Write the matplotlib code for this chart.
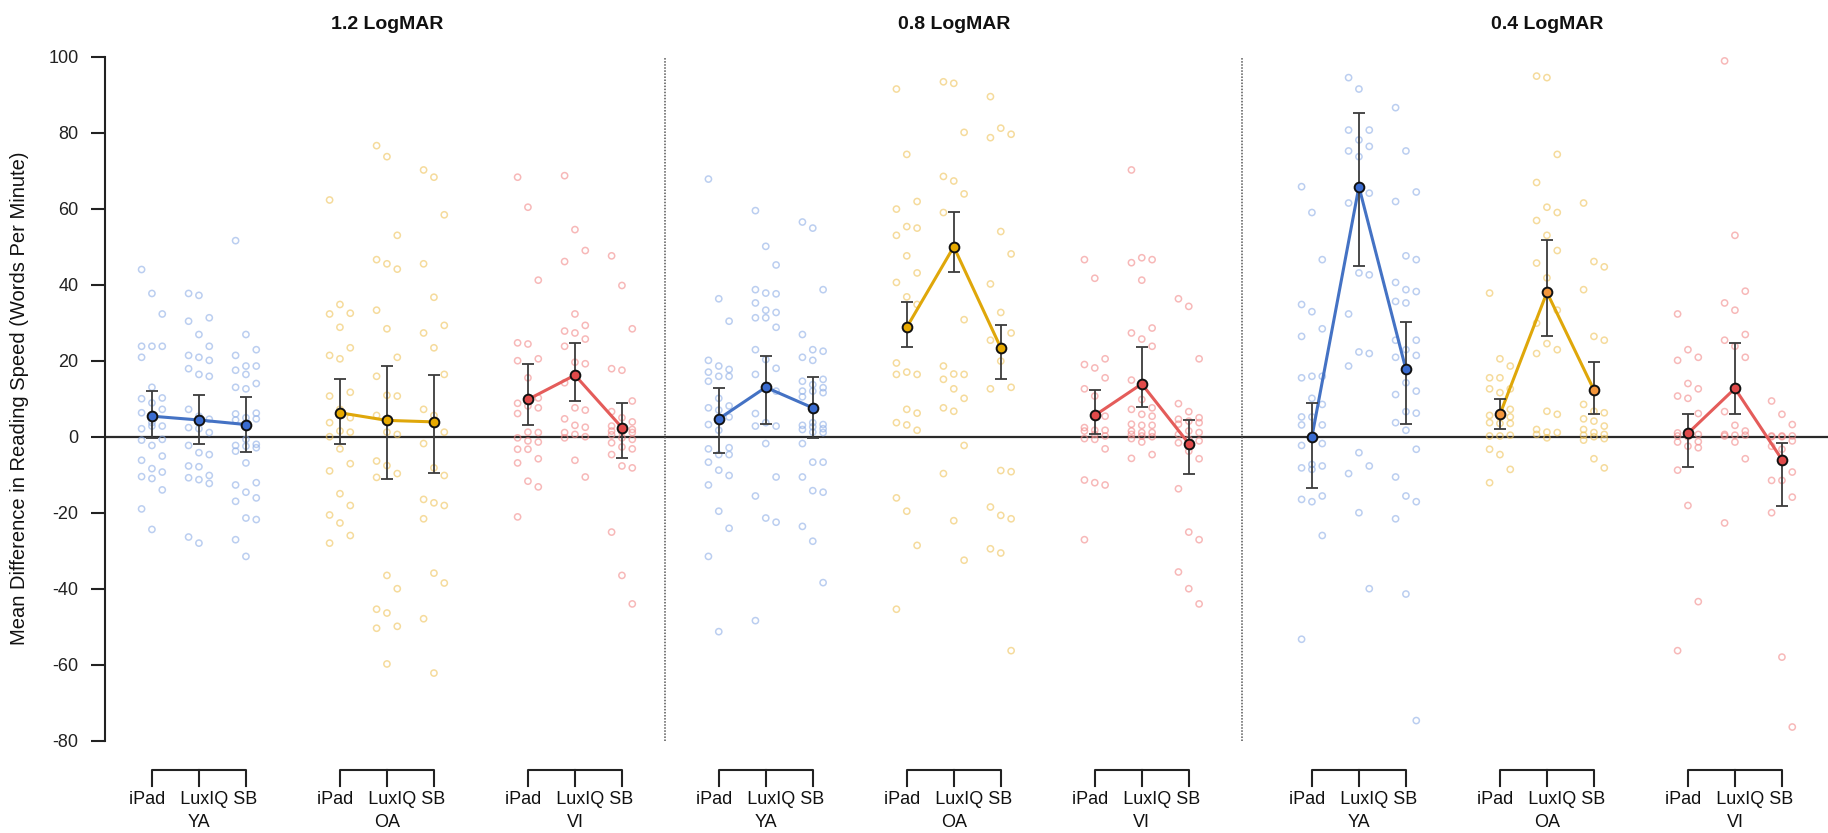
import numpy as np
import matplotlib
matplotlib.use("Agg")
import matplotlib.pyplot as plt

plt.rcParams['font.family'] = ['Liberation Sans', 'DejaVu Sans']
plt.rcParams['axes.unicode_minus'] = False

# panels, groups, devices
levels = ['1.2 LogMAR', '0.8 LogMAR', '0.4 LogMAR']
groups = ['YA', 'OA', 'VI']
devices = ['iPad', 'LuxIQ', 'SB']

# ---- individual differences, 1.2 LogMAR ----
ya_ipad_12 = [44, 37.7, 32.3, 23.8, 23.8, 23.8, 20.9, 13, 10.2, 10, 8.9, 7.2, 6.3, 3.7, 2.8, 2.1, 2.8,
              -0.7, -0.9, -2.3, -5.1, -6.2, -8.4, -9.3, -10.5, -11, -14, -19, -24.4]
ya_lux_12 = [37.7, 37.2, 31.3, 30.4, 26.9, 23.8, 21.4, 20.9, 20.1, 17.9, 16.4, 15.9, 7.2, 5.4, 4.6, 2.4,
             2.1, 1.1, -2.3, -4.2, -4.7, -7.7, -7.9, -10.2, -10.8, -11.3, -12.3, -26.4, -28]
ya_sb_12 = [51.6, 26.9, 22.9, 21.4, 18.6, 18.6, 17.5, 16.4, 14, 13, 12.6, 6.2, 6, 5, 4.7, 4.4, -0.7, -2,
            -2.3, -2.5, -2.9, -3.8, -6.9, -12.1, -12.7, -14.6, -16.1, -17, -21.4, -21.8, -27.1, -31.5]
oa_ipad_12 = [62.3, 34.8, 32.5, 32.3, 28.8, 23.4, 21.4, 20.5, 11.7, 10.7, 7.2, 5, 3.7, 1.5, 1.2, 0,
              -3.2, -7.1, -9, -15, -18.1, -20.6, -22.7, -26, -28]
oa_lux_12 = [76.6, 73.7, 53, 46.6, 45.5, 44.1, 33.3, 28.4, 20.9, 15.9, 10.9, 10.7, 5.6, 1.2, 0.6, -6.4,
             -7.6, -9.7, -10.7, -36.5, -40, -45.4, -46.4, -49.9, -50.4, -59.8]
oa_sb_12 = [70.2, 68.3, 58.4, 45.5, 36.7, 29.3, 27.3, 23.4, 16.4, 7.2, 5.6, 1.2, -1.8, -8.2, -10.2,
            -16.5, -17.4, -18.1, -21.6, -35.9, -38.5, -47.9, -62.2]
vi_ipad_12 = [68.3, 60.4, 41.2, 24.7, 24.4, 20.5, 20.0, 15.5, 10.2, 8.8, 8.1, 7.6, 6.1, 1.2, 1.1, -0.3,
              -1.1, -1.4, -3.3, -3.3, -5.8, -6.9, -11.7, -13.2, -21.1]
vi_lux_12 = [68.7, 54.5, 49, 46.1, 32.3, 29.3, 27.8, 27.3, 25.7, 23.8, 19.6, 19.2, 14.2, 7.6, 7.0, 4.7,
             3.0, 2.5, 1.1, 0.6, 0, -0.3, -6.2, -10.6]
vi_sb_12 = [47.6, 39.8, 28.4, 17.9, 17.5, 9.4, 6.6, 5, 3.9, 2.8, 2.4, 1.9, 1.5, 1.2, 1.1, 0.5, -0.3,
            -0.7, -1.6, -2.7, -3.2, -4.7, -7.7, -8.2, -25.1, -36.5, -44]

# ---- individual differences, 0.8 LogMAR ----
ya_ipad_08 = [67.8, 36.3, 30.4, 20.1, 18.6, 17.7, 17, 15.9, 15.9, 14.6, 10.1, 8.1, 7.6, 7, 5.2, 3.2, 1.7,
              -2.9, -3.2, -4.7, -4.7, -6.7, -8.8, -10.2, -12.7, -19.6, -24.1, -31.5, -51.3]
ya_lux_08 = [59.5, 50.1, 45.2, 38.7, 37.8, 37.6, 35.2, 33.3, 32.7, 31.3, 31.3, 28.8, 22.9, 20.3, 18,
             16.4, 13.5, 12, 6.1, 3.7, 2.8, 2.8, -1.8, -10.6, -15.6, -21.4, -22.5, -48.4]
ya_sb_08 = [56.5, 54.9, 38.7, 26.9, 22.9, 22.5, 20.9, 20.1, 15.1, 14.6, 13.7, 12.9, 12, 12, 11.6, 10.5,
            3.7, 3.2, 3, 2.6, 2.1, 1.9, 1.2, 1.1, -1.8, -6.7, -6.7, -10.6, -14.2, -14.6, -23.6, -27.5, -38.4]
oa_ipad_08 = [91.5, 74.3, 61.9, 59.9, 55.3, 54.9, 53, 47.6, 43.1, 40.6, 36.8, 34.8, 19.4, 17, 16.4,
              16.4, 7.2, 6.2, 3.7, 3.1, 1.7, -16.1, -19.6, -28.6, -45.4]
oa_lux_08 = [93.4, 93, 80.1, 68.5, 67.3, 63.9, 59, 50.1, 30.8, 18.6, 16.5, 16.4, 15.1, 12.6, 10.1, 7.6,
             6.7, -2.3, -9.7, -22.1, -32.5]
oa_sb_08 = [89.5, 81.2, 79.6, 78.7, 54, 48.1, 40.2, 32.7, 27.3, 25.4, 19.9, 13, 12.6, -8.9, -9.2,
            -18.5, -20.7, -21.6, -29.5, -30.6, -56.3]
vi_ipad_08 = [46.6, 41.7, 20.5, 19, 18.1, 15.5, 12.6, 10.7, 5.4, 2.4, 1.7, 1.7, 1.5, 0.6, 0.2, -0.5,
              -0.7, -3.2, -11.4, -12.1, -12.7, -27.1]
vi_lux_08 = [70.2, 47.1, 46.6, 45.8, 41.2, 28.6, 27.3, 25.7, 23.8, 14.9, 9.8, 7.6, 7.2, 5.9, 5.4, 3.3,
             3, 3, 1.5, 1.1, 1.1, 0.6, 0.2, 0, -0.5, -1.4, -4.7, -5.7]
vi_sb_08 = [36.3, 34.3, 20.5, 8.7, 6.6, 5, 4.6, 4.1, 3.7, 3.3, 1.5, 1.1, 0.6, -0.7, -1.1, -1.6, -3.8,
            -5.8, -13.7, -25.1, -27.1, -35.6, -40, -44]

# ---- individual differences, 0.4 LogMAR ----
ya_ipad_04 = [65.8, 59, 46.6, 34.8, 32.9, 28.4, 26.4, 15.9, 15.9, 15.5, 10.1, 8.5, 5.2, 5.2, 3.1, 3.1,
              0.4, -1.8, -2.3, -7.3, -7.7, -8.2, -8.6, -15.6, -16.5, -17.1, -26, -53.3]
ya_lux_04 = [94.5, 91.5, 80.7, 80.7, 78.1, 76.4, 75.2, 73.7, 64.1, 61.5, 43.1, 42.6, 32.3, 22.3, 21.9,
             18.6, -4.2, -7.7, -9.7, -20, -40]
ya_sb_04 = [86.6, 75.2, 64.4, 61.9, 47.6, 46.6, 40.6, 38.7, 38.2, 35.6, 35.2, 25.4, 25.4, 22.9, 21.4,
            20.9, 14.2, 12, 11.1, 6.6, 6.2, 3.7, 1.7, -3.3, -10.6, -15.6, -17.1, -21.6, -41.4, -74.7]
oa_ipad_04 = [37.8, 20.5, 18.6, 15.5, 15.5, 12.6, 12.6, 11.6, 7.2, 5.6, 5.2, 5.2, 3.7, 3.5, 3.5, 0.2,
              0.2, 0.4, -3.3, -4.7, -8.6, -12.1]
oa_lux_04 = [94.9, 94.5, 74.3, 66.9, 60.4, 59, 56.9, 53, 49, 45.7, 41.8, 33.3, 29.9, 24.5, 22.9, 21.9,
             6.7, 5.9, 1.9, 1.2, 1.1, 0.6, -0.3]
oa_sb_04 = [61.5, 46.1, 44.7, 38.7, 26.4, 25.4, 8.5, 6.7, 6.3, 4.7, 4.1, 2.8, 1.9, 1.1, 0.6, 0.4, 0,
            -0.5, -0.9, -5.8, -8.2]
vi_ipad_04 = [32.3, 22.9, 20.9, 20.1, 14, 12.6, 10.7, 10.1, 6.1, 1, 0.6, 0.6, 0.2, 0, -1.3, -1.4, -2.5,
              -2.9, -8.8, -18.1, -43.4, -56.3]
vi_lux_04 = [98.9, 53, 38.3, 35.2, 33.3, 26.9, 25.4, 23.8, 20.9, 6.6, 3, 1.5, 0.6, 0.4, 0.4, 0.2, -1.4,
             -5.8, -22.7]
vi_sb_04 = [9.4, 5.9, 3.2, 0.2, 0.2, 0.2, 0, 0, -1.1, -2.5, -3.3, -9.3, -11.5, -11.5, -15.9, -20,
            -58, -76.4]

# ---- means and error bar limits (iPad, LuxIQ, SB) ----
mean_12 = {'YA': [5.4, 4.4, 3.2], 'OA': [6.3, 4.3, 3.9], 'VI': [9.8, 16.2, 2.4]}
low_12 = {'YA': [-0.3, -1.8, -4.0], 'OA': [-2.0, -11.0, -9.5], 'VI': [3.0, 9.4, -5.5]}
high_12 = {'YA': [12.0, 10.9, 10.4], 'OA': [15.3, 18.7, 16.3], 'VI': [19.2, 24.7, 8.8]}

mean_08 = {'YA': [4.7, 13.0, 7.6], 'OA': [28.8, 50.0, 23.4], 'VI': [5.6, 13.9, -1.8]}
low_08 = {'YA': [-4.4, 3.4, -0.3], 'OA': [23.6, 43.3, 15.2], 'VI': [0.6, 7.9, -9.9]}
high_08 = {'YA': [12.9, 21.2, 15.8], 'OA': [35.5, 59.2, 29.5], 'VI': [12.3, 23.6, 4.4]}

mean_04 = {'YA': [0.0, 65.8, 17.7], 'OA': [5.9, 38.0, 12.3], 'VI': [0.9, 12.7, -6.0]}
low_04 = {'YA': [-13.5, 44.8, 3.4], 'OA': [1.9, 26.6, 5.9], 'VI': [-7.9, 5.9, -18.3]}
high_04 = {'YA': [8.8, 85.3, 30.1], 'OA': [10.0, 51.8, 19.7], 'VI': [5.9, 24.7, -1.6]}

points = [
    {'YA': [ya_ipad_12, ya_lux_12, ya_sb_12], 'OA': [oa_ipad_12, oa_lux_12, oa_sb_12],
     'VI': [vi_ipad_12, vi_lux_12, vi_sb_12]},
    {'YA': [ya_ipad_08, ya_lux_08, ya_sb_08], 'OA': [oa_ipad_08, oa_lux_08, oa_sb_08],
     'VI': [vi_ipad_08, vi_lux_08, vi_sb_08]},
    {'YA': [ya_ipad_04, ya_lux_04, ya_sb_04], 'OA': [oa_ipad_04, oa_lux_04, oa_sb_04],
     'VI': [vi_ipad_04, vi_lux_04, vi_sb_04]},
]
means = [mean_12, mean_08, mean_04]
lows = [low_12, low_08, low_04]
highs = [high_12, high_08, high_04]

# colours
line_col = {'YA': '#4472c4', 'OA': '#dfa70a', 'VI': '#e45c5a'}
dot_col = {'YA': '#8eaee6', 'OA': '#efc35a', 'VI': '#f28a8a'}
mean_face = {'YA': '#3a6cd0', 'OA': '#e8aa00', 'VI': '#e04a4a'}

# layout in axis units (1 unit = spacing between devices)
panel_start = [2.0, 14.06, 26.68]
group_step = 4.0
dividers = [11.91, 24.19]

fig = plt.figure(figsize=(18.28, 8.33), dpi=100)
ax = fig.add_axes([0.0574, 0.1108, 0.9426, 0.8211])
ax.set_xlim(0, 36.66)
ax.set_ylim(-80, 100)

for p in range(3):
    for g, grp in enumerate(groups):
        center = panel_start[p] + g * group_step
        xs = [center - 1, center, center + 1]
        for d in range(3):
            vals = np.array(points[p][grp][d])
            jit = ((np.arange(len(vals)) % 3) - 1) * 0.22
            ax.scatter(xs[d] + jit, vals, s=20, facecolors='none', edgecolors=dot_col[grp],
                       linewidths=1.1, alpha=0.6, zorder=2, clip_on=False)
        m = np.array(means[p][grp])
        lo = m - np.array(lows[p][grp])
        hi = np.array(highs[p][grp]) - m
        ax.plot(xs, m, color=line_col[grp], lw=2.2, zorder=3)
        ax.errorbar(xs, m, yerr=[lo, hi], fmt='none', ecolor='#3c3c3c', elinewidth=1.3,
                    capsize=4, capthick=1.3, zorder=4)
        face = mean_face[grp]
        if p == 2 and grp == 'OA':
            face = '#f3963c'
        ax.plot(xs, m, 'o', ms=7, mfc=face, mec='#111111', mew=1.4, zorder=5, ls='none')

        # bracket and labels under the axis
        ax.plot([xs[0], xs[0], xs[2], xs[2]], [-91.8, -87.8, -87.8, -91.8], color='#222222',
                lw=1.5, clip_on=False)
        ax.plot([xs[1], xs[1]], [-87.8, -91.8], color='#222222', lw=1.5, clip_on=False)
        ax.text(center - 0.12, -95.5, '   '.join(devices[:2]) + ' ' + devices[2], ha='center',
                va='center', fontsize=13, color='#111111')
        ax.text(center, -101.6, grp, ha='center', va='center', fontsize=13, color='#111111')

    ax.text(panel_start[p] + group_step, 108.5, levels[p], ha='center', va='center',
            fontsize=14, fontweight='bold', color='#111111')

ax.axhline(0, color='#2a2a2a', lw=1.6, zorder=1)
for dx in dividers:
    ax.plot([dx, dx], [-80, 100], color='#555555', lw=1.1, ls=(0, (1, 1)), zorder=1)

for s in ['top', 'right', 'bottom']:
    ax.spines[s].set_visible(False)
ax.spines['left'].set_bounds(-80, 100)
ax.spines['left'].set_linewidth(1.5)
ax.spines['left'].set_color('#222222')
ax.set_xticks([])
ax.set_yticks(np.arange(-80, 101, 20))
ax.tick_params(axis='y', direction='out', length=10, width=1.5, pad=9, labelsize=13,
               colors='#222222')
ax.set_ylabel('Mean Difference in Reading Speed (Words Per Minute)', fontsize=14.5,
              labelpad=14, color='#111111')

fig.savefig('out.png', dpi=100)
